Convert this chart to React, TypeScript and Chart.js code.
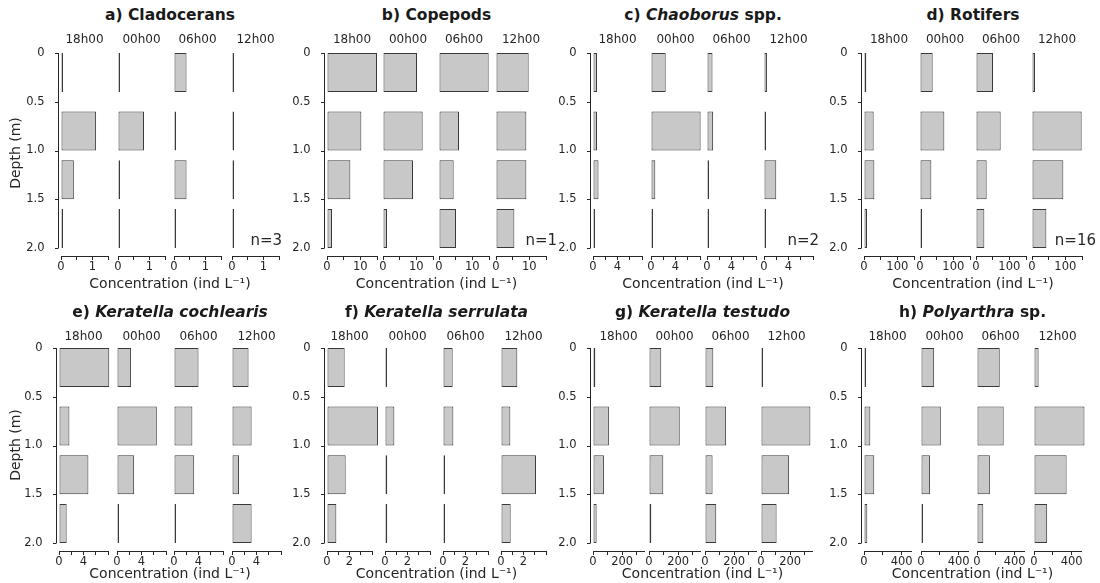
import React, { useEffect, useRef } from 'react';
import { Chart, registerables } from 'chart.js';

Chart.register(...registerables);
Chart.defaults.font.family = 'DejaVu Sans';

// ---------- data ----------
const times = ['18h00', '00h00', '06h00', '12h00'];
const depthTop = [0, 0.6, 1.1, 1.6];
const depthBottom = [0.4, 1.0, 1.5, 2.0];
const depthTicks = [0, 0.5, 1.0, 1.5, 2.0];

// values: [time][depth layer], ind L-1
const cladocerans = [[0, 1.12, 0.41, 0], [0, 0.83, 0, 0], [0.4, 0, 0.4, 0], [0, 0, 0, 0]];
const copepods = [[15.0, 10.3, 7.0, 1.5], [10.2, 11.9, 9.0, 1.2], [14.9, 6.0, 4.4, 5.1], [9.8, 9.1, 9.1, 5.5]];
const chaoborus = [[0.65, 0.65, 0.9, 0], [2.4, 8.1, 0.7, 0], [0.9, 1.0, 0, 0], [0.5, 0, 2.0, 0]];
const rotifers = [[7, 29, 31, 9], [38, 73, 34, 6], [51, 74, 32, 25], [9, 149, 94, 43]];
const kCochlearis = [[8.2, 1.7, 4.8, 1.25], [2.3, 6.5, 2.8, 0], [4.0, 3.0, 3.3, 0], [2.7, 3.2, 1.15, 3.2]];
const kSerrulata = [[1.57, 4.53, 1.66, 0.83], [0, 0.83, 0.2, 0.2], [0.86, 0.92, 0, 0], [1.45, 0.83, 3.11, 0.86]];
const kTestudo = [[16, 109, 75, 25], [84, 211, 98, 16], [57, 145, 52, 77], [0, 339, 193, 107]];
const polyarthra = [[21, 67, 109, 35], [140, 211, 95, 21], [242, 284, 137, 67], [49, 537, 347, 140]];

// x-axis ticks per panel
const axisMax = [1.5, 15, 8, 150, 8, 4, 350, 500];
const axisStep = [0.5, 5, 2, 50, 2, 1, 100, 200];
const axisLabeled = [[0, 1], [0, 10], [0, 4], [0, 100], [0, 4], [0, 2], [0, 200], [0, 400]];
const sampleN = ['n=3', 'n=1', 'n=2', 'n=16', '', '', '', ''];

const titles = [
  { pre: 'a) Cladocerans', it: '', post: '' },
  { pre: 'b) Copepods', it: '', post: '' },
  { pre: 'c) ', it: 'Chaoborus', post: ' spp.' },
  { pre: 'd) Rotifers', it: '', post: '' },
  { pre: 'e) ', it: 'Keratella cochlearis', post: '' },
  { pre: 'f) ', it: 'Keratella serrulata', post: '' },
  { pre: 'g) ', it: 'Keratella testudo', post: '' },
  { pre: 'h) ', it: 'Polyarthra', post: ' sp.' },
];
const panelValues = [cladocerans, copepods, chaoborus, rotifers, kCochlearis, kSerrulata, kTestudo, polyarthra];

// ---------- layout ----------
const subX0 = [
  [61, 118, 174, 232],
  [327, 383, 439, 496],
  [593, 651, 707, 764],
  [864, 920, 976, 1032],
  [59, 117, 174, 232],
  [327, 385, 443, 501],
  [593, 649, 705, 761],
  [864, 921, 977, 1034],
];
const subW = [47, 50, 49, 50, 49, 45, 51, 47];
const nRight = [282, 557, 819, 1096];
const rowTop = [53, 348];
const PX_PER_M = 97.5;
const AXIS_GAP = 8;
const AREA_H = 2 * PX_PER_M + AXIS_GAP;
const Y_MAX = AREA_H / PX_PER_M;
const PAD_TOP = 18;
const PAD_LEFT = 8;
const PAD_RIGHT = 12;
const Y_AXIS_W = 45;
const X_AXIS_H = 26;
const SPINE_OFF = 3;
const TICK_LEN = 3.5;

const AXIS = '#262626';
const TEXT = '#262626';
const BAR_FILL = '#c8c8c8';
const BAR_EDGE = '#3a3a3a';
const FONT = 'DejaVu Sans';
const TICK_FONT = 11.5;

const ySpine = {
  id: 'ySpine',
  afterDraw(chart: any) {
    const { ctx, chartArea, scales } = chart;
    const y = scales.y;
    const x = Math.round(chartArea.left - SPINE_OFF) + 0.5;
    ctx.save();
    ctx.strokeStyle = AXIS;
    ctx.lineWidth = 1;
    ctx.beginPath();
    ctx.moveTo(x, y.getPixelForValue(depthTicks[0]));
    ctx.lineTo(x, y.getPixelForValue(depthTicks[depthTicks.length - 1]));
    for (const t of depthTicks) {
      const py = Math.round(y.getPixelForValue(t)) + 0.5;
      ctx.moveTo(x, py);
      ctx.lineTo(x - TICK_LEN, py);
    }
    ctx.stroke();
    ctx.restore();
  },
};

function SubChart({ p, t }: { p: number; t: number }) {
  const ref = useRef<HTMLCanvasElement>(null);
  const first = t === 0;
  const row = p < 4 ? 0 : 1;
  const leftPart = first ? Y_AXIS_W : PAD_LEFT;
  const width = leftPart + subW[p] + PAD_RIGHT;
  const height = PAD_TOP + AREA_H + X_AXIS_H;
  const left = subX0[p][t] - leftPart;
  const top = rowTop[row] - PAD_TOP;

  useEffect(() => {
    const vals = panelValues[p][t];
    const chart = new Chart(ref.current as HTMLCanvasElement, {
      type: 'bar',
      data: {
        datasets: [
          {
            data: vals.map((v, i) => ({ x: v, y: (depthTop[i] + depthBottom[i]) / 2 })),
            backgroundColor: BAR_FILL,
            borderColor: BAR_EDGE,
            borderWidth: 1,
            borderSkipped: false,
            minBarLength: 2,
            categoryPercentage: 1,
            barPercentage: 0.8,
            clip: false,
          } as any,
        ],
      },
      options: {
        indexAxis: 'y',
        responsive: false,
        animation: false,
        events: [],
        layout: { padding: { top: PAD_TOP, left: first ? 0 : PAD_LEFT, right: PAD_RIGHT, bottom: 0 } },
        plugins: { legend: { display: false }, tooltip: { enabled: false } },
        scales: {
          x: {
            type: 'linear',
            min: 0,
            max: axisMax[p],
            offset: false,
            grid: { display: true, drawOnChartArea: false, drawTicks: true, tickLength: 4, color: AXIS, lineWidth: 1, offset: false },
            border: { display: true, color: AXIS, width: 1 },
            ticks: {
              stepSize: axisStep[p],
              includeBounds: false,
              autoSkip: false,
              maxRotation: 0,
              minRotation: 0,
              padding: 0,
              color: TEXT,
              font: { size: TICK_FONT, family: FONT },
              callback: (v: any) => (axisLabeled[p].includes(Number(v)) ? String(v) : ''),
            },
            afterFit: (s: any) => {
              s.height = X_AXIS_H;
            },
          },
          y: {
            type: 'linear',
            reverse: true,
            min: 0,
            max: Y_MAX,
            offset: false,
            display: first,
            grid: { display: false, offset: false },
            border: { display: false },
            ticks: {
              stepSize: 0.5,
              includeBounds: false,
              autoSkip: false,
              padding: SPINE_OFF + TICK_LEN + 2,
              color: TEXT,
              font: { size: TICK_FONT, family: FONT },
              callback: (v: any) => (Number(v) === 0 ? '0' : Number(v).toFixed(1)),
            },
            afterFit: (s: any) => {
              if (first) s.width = Y_AXIS_W;
            },
          },
        },
      } as any,
      plugins: first ? [ySpine] : [],
    });
    return () => chart.destroy();
  }, [p, t]);

  return (
    <canvas
      ref={ref}
      width={width}
      height={height}
      style={{ position: 'absolute', left, top, width, height }}
    />
  );
}

const centered = (x: number, y: number, extra: React.CSSProperties = {}): React.CSSProperties => ({
  position: 'absolute',
  left: x,
  top: y,
  transform: 'translate(-50%, -50%)',
  whiteSpace: 'nowrap',
  lineHeight: 1,
  fontFamily: FONT,
  color: TEXT,
  ...extra,
});

const titleY = [16, 313];
const timeY = [39, 336];
const xLabelY = [283, 573];
const depthLabelY = [152.5, 445];
const nLabelY = 240;

export default function App() {
  const panels = [0, 1, 2, 3, 4, 5, 6, 7];
  return (
    <div style={{ position: 'absolute', left: 0, top: 0, width: 1100, height: 583, background: '#fff', overflow: 'hidden' }}>
      {panels.map((p) => {
        const row = p < 4 ? 0 : 1;
        const x1 = subX0[p][0];
        const x2 = subX0[p][3] + subW[p];
        const cx = (x1 + x2) / 2;
        const tt = titles[p];
        return (
          <React.Fragment key={p}>
            {times.map((_, t) => (
              <SubChart key={t} p={p} t={t} />
            ))}
            <div style={centered(cx, titleY[row], { fontWeight: 'bold', fontSize: 15.5, color: '#1a1a1a' })}>
              {tt.pre}
              {tt.it ? <i>{tt.it}</i> : null}
              {tt.post}
            </div>
            {times.map((lab, t) => (
              <div key={'t' + t} style={centered(subX0[p][t] + subW[p] / 2, timeY[row], { fontSize: 12 })}>
                {lab}
              </div>
            ))}
            <div style={centered(cx, xLabelY[row], { fontSize: 14 })}>Concentration (ind L⁻¹)</div>
            {sampleN[p] ? (
              <div
                style={{
                  position: 'absolute',
                  left: nRight[p] - 80,
                  width: 80,
                  top: nLabelY,
                  transform: 'translateY(-50%)',
                  textAlign: 'right',
                  fontFamily: FONT,
                  fontSize: 15,
                  lineHeight: 1,
                  color: TEXT,
                }}
              >
                {sampleN[p]}
              </div>
            ) : null}
          </React.Fragment>
        );
      })}
      {[0, 1].map((row) => (
        <div
          key={'d' + row}
          style={centered(14.5, depthLabelY[row], { fontSize: 14, transform: 'translate(-50%, -50%) rotate(-90deg)' })}
        >
          Depth (m)
        </div>
      ))}
    </div>
  );
}
